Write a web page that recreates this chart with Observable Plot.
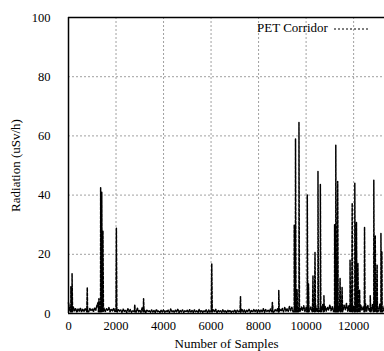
<!DOCTYPE html>
<html><head><meta charset="utf-8">
<script src="https://cdn.jsdelivr.net/npm/d3@7"></script>
<script src="https://cdn.jsdelivr.net/npm/@observablehq/plot@0.6"></script>
<style>
body{margin:0;background:#fff;}
#wrap{position:relative;width:384px;height:351px;overflow:hidden;font-family:"Liberation Serif",serif;}
#legend{position:absolute;left:257px;top:20px;font-size:13px;color:#000;white-space:nowrap;font-family:"Liberation Serif",serif;}
#legend svg{vertical-align:middle;margin-left:4px;}
svg text{font-family:"Liberation Serif",serif;}
</style></head>
<body><div id="wrap"><div id="legend">PET Corridor<svg width="40" height="6"><line x1="2" y1="3" x2="38" y2="3" stroke="#000" stroke-width="1.2" stroke-dasharray="2,2"/></svg></div></div>
<script>
const seriesName = "PET Corridor";
const baselineStep = 50; // samples between baseline readings
const baseline = [
  3.6,1.2,2.8,0.6,2.2,0.9,1.8,0.4,1.5,0.8,1.9,0.5,1.4,0.7,1.6,1.0,2.3,0.6,1.7,0.9,
  1.5,0.6,2.0,1.1,2.8,3.8,2.5,1.2,2.9,0.8,1.8,0.7,1.6,1.1,2.0,0.6,1.5,0.9,1.8,0.7,
  2.2,0.5,1.4,0.8,1.2,0.4,1.5,0.7,1.1,0.3,1.6,0.6,1.3,0.4,1.0,0.7,1.4,0.5,1.8,0.6,
  1.2,0.4,1.9,0.6,1.1,0.3,1.3,0.7,0.9,0.4,1.2,0.5,1.0,0.3,1.4,0.6,0.9,0.4,1.1,0.5,
  1.3,0.4,1.0,0.6,1.2,0.3,1.5,0.5,0.9,0.4,1.1,0.6,1.4,0.3,1.0,0.5,1.2,0.4,0.9,0.6,
  1.1,0.3,1.3,0.5,1.0,0.4,1.2,0.6,0.9,0.3,1.4,0.5,1.1,0.4,1.0,0.6,1.3,0.3,1.2,0.5,
  1.0,0.4,1.2,0.5,1.4,0.3,1.1,0.6,0.9,0.4,1.3,0.5,1.0,0.3,1.2,0.6,1.1,0.4,1.0,0.5,
  1.3,0.3,1.1,0.6,1.0,0.4,1.5,0.5,1.2,0.3,1.1,0.6,1.4,0.4,1.0,0.5,1.3,0.6,1.2,0.4,
  1.4,0.5,1.2,0.6,1.6,0.4,1.3,0.7,1.1,0.5,1.5,0.6,1.8,0.4,1.3,0.7,1.6,0.5,1.4,0.8,
  1.7,0.6,2.0,0.8,1.6,0.7,2.4,0.9,2.1,0.6,1.8,1.0,2.5,0.7,1.9,0.8,2.2,0.9,2.6,0.7,
  2.0,0.8,2.7,1.0,2.2,0.7,1.9,1.1,2.8,0.8,2.3,0.9,2.6,0.7,3.0,1.0,2.4,0.8,2.1,1.2,
  2.9,0.9,2.3,0.7,2.7,1.1,3.2,0.8,2.5,1.0,2.2,0.9,2.8,1.3,3.4,0.8,2.6,1.0,2.9,0.9,
  2.4,0.8,3.1,1.0,2.6,0.7,2.8,1.2,2.3,0.9,3.3,0.8,2.7,1.1,2.5,0.9,3.0,0.7,2.8,1.0,
  2.6,0.9,3.1,0.8,2.5,1.0,2.7
];
const spikeAt =   [100, 150, 790, 1280, 1353, 1400, 1450, 2015, 2790, 3160, 6030, 7240, 8580, 8850, 9500, 9555, 9620, 9700, 10050, 10100, 10290, 10375, 10500, 10600, 10750, 11200, 11250, 11330, 11430, 11515, 11850, 11940, 12050, 12120, 12180, 12250, 12460, 12700, 12850, 12910, 12990, 13150, 13190];
const spikePeak = [9,   13.5, 8.8, 5,   42.5, 41,   28,   28.8, 3,    5,    16.8, 5.7,  3.7,  7.8,  30,   59,   8,    64.6, 40,    10,    12.8,  20.7,  48,    43.6,  6,     30,    56.8,  44.6,  11.8,  8.8,   18,    37.3,  44,    30.8,  17,    8,     29.2,  6,     45,    26.4,  16.5,  27,    21];
const spikeFoot = 0.6;   // reading just before / after each spike
const spikeHalfWidth = 20; // samples
const xTicks = [0, 2000, 4000, 6000, 8000, 10000, 12000];
const yTicks = [0, 20, 40, 60, 80, 100];
const xLabel = "Number of Samples";
const yLabel = "Radiation (uSv/h)";

const pts = baseline.map((v, i) => ({x: i * baselineStep, y: v}));
spikeAt.forEach((s, i) => {
  pts.push({x: s - spikeHalfWidth, y: spikeFoot}, {x: s, y: spikePeak[i]}, {x: s + spikeHalfWidth, y: spikeFoot});
});
pts.sort((a, b) => a.x - b.x);

const chart = Plot.plot({
  width: 384, height: 351,
  marginLeft: 68, marginRight: 0, marginTop: 17, marginBottom: 38,
  style: {fontFamily: "'Liberation Serif', serif", fontSize: "12px", color: "#000", background: "#fff"},
  x: {domain: [0, 13300]},
  y: {domain: [0, 100]},
  marks: [
    Plot.gridX(xTicks.filter(d => d > 0), {stroke: "#888", strokeOpacity: 0.8, strokeDasharray: "2,2"}),
    Plot.gridY(yTicks.filter(d => d > 0 && d < 100), {stroke: "#888", strokeOpacity: 0.8, strokeDasharray: "2,2"}),
    Plot.line(pts, {x: "x", y: "y", stroke: "#000", strokeWidth: 1.5, strokeDasharray: "3,1.5"}),
    Plot.ruleY([0], {stroke: "#000", strokeWidth: 1.5}),
    Plot.ruleY([100], {stroke: "#000", strokeWidth: 1.5}),
    Plot.ruleX([0], {stroke: "#000", strokeWidth: 1.5}),
    Plot.axisX(xTicks, {tickSize: 0, tickPadding: 8, fontSize: 12.5, tickFormat: d3.format("d"), label: xLabel, labelAnchor: "center", labelArrow: "none", labelOffset: 34}),
    Plot.axisY(yTicks, {tickSize: 0, tickPadding: 18, fontSize: 12.5, tickFormat: d3.format("d"), label: yLabel, labelAnchor: "center", labelArrow: "none", labelOffset: 58})
  ]
});
chart.style.position = "absolute";
chart.style.left = "0"; chart.style.top = "0";
chart.querySelectorAll("g[aria-label='x-axis label'] text, g[aria-label='y-axis label'] text").forEach(t => t.setAttribute("font-size", "13"));
document.getElementById("wrap").prepend(chart);
</script></body></html>
